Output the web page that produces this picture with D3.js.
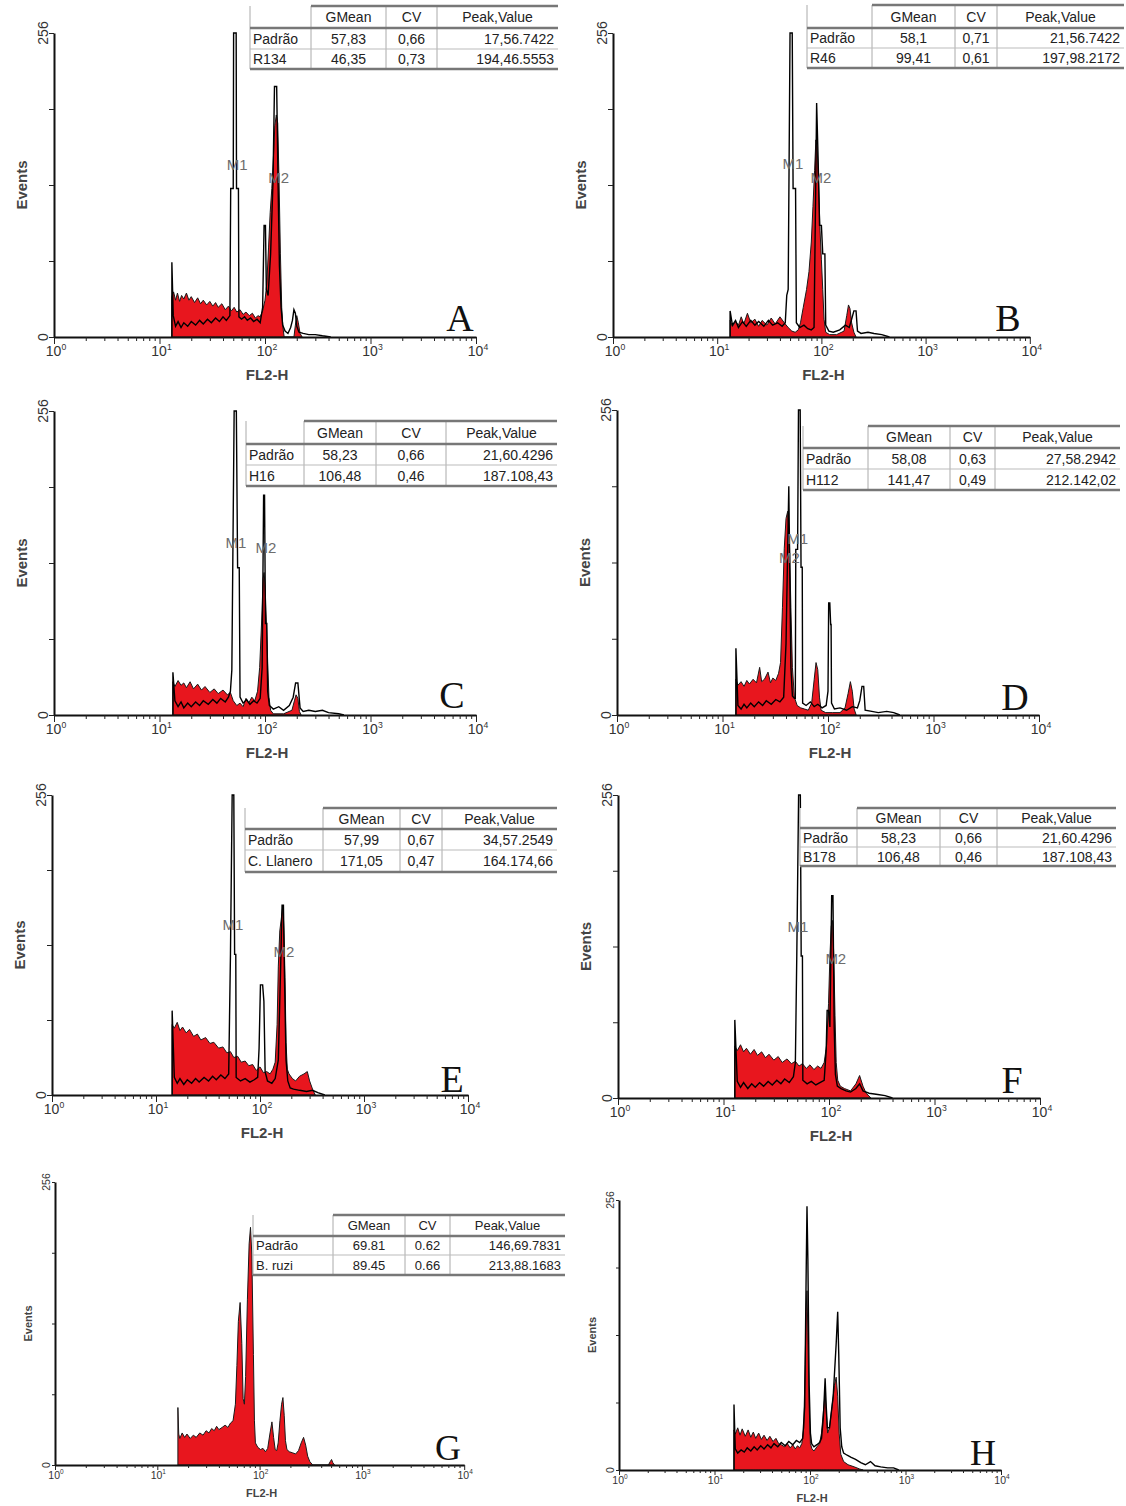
<!DOCTYPE html>
<html><head><meta charset="utf-8">
<script src="https://cdn.jsdelivr.net/npm/d3@7"></script>
<style>body{margin:0;background:#fff}svg{display:block}</style>
</head><body>
<svg id="fig" width="1126" height="1506"></svg>
<script>
// ---------- DATA ----------
const panelLetters = ["A","B","C","D","E","F","G","H"];
const tableHeader = ["", "GMean", "CV", "Peak,Value"];
const tableA = [["Padrão","57,83","0,66","17,56.7422"],["R134","46,35","0,73","194,46.5553"]];
const tableB = [["Padrão","58,1","0,71","21,56.7422"],["R46","99,41","0,61","197,98.2172"]];
const tableC = [["Padrão","58,23","0,66","21,60.4296"],["H16","106,48","0,46","187.108,43"]];
const tableD = [["Padrão","58,08","0,63","27,58.2942"],["H112","141,47","0,49","212.142,02"]];
const tableE = [["Padrão","57,99","0,67","34,57.2549"],["C. Llanero","171,05","0,47","164.174,66"]];
const tableF = [["Padrão","58,23","0,66","21,60.4296"],["B178","106,48","0,46","187.108,43"]];
const tableG = [["Padrão","69.81","0.62","146,69.7831"],["B. ruzi","89.45","0.66","213,88.1683"]];

const yTickValues = [0, 64, 128, 192, 256];
const decadeValues = [1, 10, 100, 1000, 10000];
const xAxisLabel = "FL2-H";
const yAxisLabel = "Events";

// [FL2-H channel, events]
const sampleA = [[13.1,0],[13.1,34],[13.6,38],[14.2,31],[14.8,37],[15.5,30],[16.2,35],[17,32],[18,37],[19,31],[20,34],[21.5,29],[23,33],[24.5,28],[26,31],[28,27],[30,30],[32,26],[34,29],[36,25],[39,28],[42,23],[45,26],[48,22],[51,25],[54,21],[58,23],[62,19],[66,21],[71,18],[76,20],[81,16],[86,18],[90,17],[95,22],[100,31],[104,45],[108,75],[112,105],[116,125],[120,150],[124,178],[128,187],[132,180],[136,130],[140,70],[144,25],[148,8],[152,0],[188,0],[194,10],[200,18],[207,12],[215,3],[225,0]];
const standardA = [[13.1,0],[13.1,63],[13.5,18],[14.2,9],[15,13],[16,8],[17,12],[18.5,9],[20,13],[22,10],[24,14],[26,11],[28.5,15],[31,12],[34,16],[37,13],[40,17],[43,14],[46.5,18],[47.3,125],[50,125],[50.4,256],[53.3,256],[53.7,125],[56,125],[56.6,17],[60,15],[64,17],[68,14],[73,16],[78,13],[84,15],[90,12],[95,25],[98,94],[101,94],[103,40],[107,35],[113,70],[119,130],[123,211],[129,211],[133,130],[137,60],[142,25],[147,10],[155,5],[165,3],[175,8],[182,14],[188,23],[194,20],[200,9],[210,4],[230,3],[260,2],[300,2],[350,1],[420,0]];

const sampleB = [[13.3,0],[13.3,14],[14,9],[15,13],[16,10],[17,17],[18,11],[19.5,20],[21,12],[23,15],[25,9],[27,14],[30,10],[33,16],[36,11],[40,17],[44,12],[48,8],[52,5],[56,4],[60,6],[63,12],[67,25],[72,40],[76,55],[80,80],[83,110],[86,140],[88.5,166],[91,160],[94,130],[97,90],[100,65],[103,40],[106,15],[110,4],[120,2],[140,2],[165,5],[175,18],[182,27],[188,24],[195,12],[205,4],[215,0]];
const standardB = [[13.3,0],[13.3,22],[14,10],[15,14],[16,8],[17.5,13],[19,9],[21,14],[23,10],[25,13],[28,9],[31,14],[34,10],[38,12],[42,9],[45,12],[46.5,35],[48,40],[50,256],[52.5,256],[53.5,125],[56.5,125],[57.5,12],[62,8],[68,10],[74,7],[80,6],[85,8],[88,120],[90,197],[93,150],[96,94],[100,94],[103,70],[108,70],[110,10],[118,5],[130,4],[150,6],[170,10],[185,8],[195,15],[205,22],[215,22],[222,5],[240,3],[280,4],[320,3],[380,2],[450,0]];

const sampleC = [[13.4,0],[13.4,28],[14,24],[15,29],[16,25],[17,27],[18,23],[19.5,28],[21,22],[23,26],[25,21],[27,24],[30,19],[33,22],[36,18],[40,21],[44,17],[47,19],[50,12],[54,8],[58,10],[62,7],[66,14],[70,10],[75,15],[80,12],[85,20],[89,40],[93,80],[96,115],[98,120],[100,110],[103,80],[106,45],[109,15],[113,4],[120,1],[150,1],[180,4],[190,12],[197,17],[205,14],[212,3],[220,0]];
const standardC = [[13.4,0],[13.4,36],[14,12],[15,7],[16,11],[17,6],[18.5,10],[20,7],[22,11],[24,8],[26,12],[29,9],[32,13],[35,10],[38,14],[42,11],[45,15],[47,20],[48.5,38],[51,256],[53.5,256],[55,124],[57,124],[58,15],[62,10],[67,13],[72,9],[78,12],[84,10],[90,14],[94,40],[97,185],[99,185],[101,77],[104,77],[106,20],[110,8],[120,5],[135,7],[150,4],[170,8],[185,15],[195,27],[205,27],[215,6],[230,3],[260,4],[300,3],[350,4],[400,2],[500,1],[560,0]];

const sampleD = [[13.4,0],[13.4,30],[14,25],[15,28],[16,24],[17,29],[18,26],[19.5,30],[21,27],[22.5,40],[23.5,28],[25,30],[27,36],[28.5,27],[30,31],[32,29],[34,35],[35.5,44],[37,90],[38.5,140],[40,165],[41.5,171],[43,150],[44.5,90],[46,40],[48,15],[51,8],[55,6],[60,5],[65,4],[70,10],[74,30],[77,44],[80,38],[83,15],[86,4],[95,2],[110,2],[130,2],[145,6],[155,18],[163,28],[170,20],[177,5],[185,0]];
const standardD = [[13.4,0],[13.4,56],[14,8],[15,5],[16,9],[17,6],[18.5,10],[20,7],[22,11],[24,8],[26,12],[29,9],[32,13],[35,11],[38,15],[40,60],[42.5,192],[44.5,40],[46,16],[48,14],[49,14],[49.5,139],[51.5,139],[52.5,256],[54.5,256],[55.5,124],[57,124],[57.5,10],[62,8],[68,11],[74,7],[80,9],[88,6],[96,8],[100,20],[101.5,94],[104,94],[106,76],[107,76],[108,10],[115,5],[130,6],[150,4],[170,7],[190,6],[200,12],[210,24],[218,24],[225,4],[260,3],[300,2],[360,3],[420,2],[480,0]];

const sampleE = [[14.3,0],[14.3,60],[15,57],[16,62],[17,55],[18,58],[19.5,53],[21,56],[23,50],[25,52],[27,47],[30,49],[33,44],[36,45],[40,40],[44,41],[48,36],[52,37],[56,32],[61,33],[66,28],[72,29],[78,25],[85,26],[92,21],[100,24],[108,19],[116,20],[125,18],[133,22],[140,28],[146,60],[150,110],[155,140],[160,150],[166,162],[170,140],[174,100],[178,45],[183,22],[190,18],[205,14],[220,12],[240,16],[265,18],[285,20],[300,12],[320,5],[340,0]];
const standardE = [[14.3,0],[14.3,72],[15,15],[16,10],[17,14],[18.5,9],[20,13],[22,10],[24,14],[26,11],[29,15],[32,12],[35,16],[38,13],[42,17],[46,14],[50,18],[52,120],[54,256],[56,256],[57,120],[58.5,120],[59,15],[65,12],[72,14],[80,11],[88,13],[95,15],[98,40],[101,94],[106,94],[109,80],[112,20],[118,12],[130,10],[140,14],[150,30],[158,110],[163,162],[168,162],[172,100],[178,30],[185,12],[195,6],[210,5],[240,4],[280,3],[320,4],[360,2],[420,0]];

const sampleF = [[12.8,0],[12.8,44],[13.5,40],[14.5,45],[15.5,39],[16.5,42],[18,37],[19.5,41],[21,36],[23,39],[25,34],[27,37],[30,32],[33,35],[36,30],[40,33],[44,29],[48,31],[52,27],[56,29],[61,25],[66,28],[72,24],[78,27],[84,25],[90,30],[95,45],[99,80],[102,120],[105,145],[108,150],[111,120],[114,70],[117,30],[121,15],[128,10],[140,8],[160,6],[180,12],[195,19],[210,10],[225,4],[250,0]];
const standardF = [[12.8,0],[12.8,66],[13.5,14],[14.5,9],[15.5,13],[17,8],[18.5,12],[20,9],[22,13],[24,10],[26.5,14],[29,11],[32,15],[35,12],[38,16],[42,13],[46,18],[48,30],[49.5,120],[51.5,256],[53.5,256],[54.5,120],[56,120],[56.5,15],[62,12],[68,14],[75,11],[82,13],[90,15],[94,40],[96,74],[99,74],[102,60],[106,171],[109,171],[112,60],[115,20],[120,10],[130,8],[145,6],[160,5],[180,8],[195,12],[210,6],[240,4],[290,3],[340,2],[400,0]];

const sampleG = [[15.9,0],[15.9,52],[16.2,28],[16.6,24],[17.5,29],[18.5,25],[19.5,28],[21,24],[22.5,27],[24,25],[26,29],[28,27],[30,31],[32,29],[34,33],[36,31],[38,35],[40,32],[43,34],[46,36],[49,34],[52,38],[55,40],[58,55],[60,90],[62,130],[64.5,147],[67,110],[69,60],[71,55],[73,80],[76,150],[79,200],[81.5,215],[84,190],[87,100],[89,40],[91,20],[96,16],[102,14],[108,15],[114,12],[120,15],[126,28],[132,39],[137,25],[142,14],[147,13],[152,20],[158,40],[164,55],[169,61],[174,45],[179,22],[185,14],[195,12],[210,11],[225,10],[240,13],[255,20],[269,25],[282,18],[295,8],[310,3],[331,0],[470,0],[490,3],[505,5],[520,2],[540,0]];
const standardG = [];

const sampleH = [[16,0],[16,38],[16.5,34],[17.5,40],[18.5,33],[19.5,39],[21,32],[22.5,38],[24,31],[25.5,36],[27,30],[29,35],[31,29],[33,33],[35.5,28],[38,32],[41,27],[44,30],[47,25],[50,24],[54,22],[58,25],[62,21],[66,24],[70,20],[74,23],[78,21],[82,25],[86,40],[89,100],[91,150],[93,170],[95,130],[98,60],[101,25],[105,20],[110,18],[118,22],[126,25],[132,35],[138,55],[144,73],[148,55],[153,35],[160,40],[170,60],[180,80],[188,88],[195,70],[202,35],[210,15],[225,8],[250,5],[290,3],[330,1],[360,0]];
const standardH = [[16,0],[16,62],[16.5,20],[17.5,16],[19,19],[20.5,17],[22,21],[24,18],[26,22],[28,19],[30.5,23],[33,20],[36,24],[39,21],[42,25],[46,22],[50,26],[55,23],[60,27],[66,24],[72,28],[78,26],[84,30],[88,60],[91,180],[93,250],[95,200],[98,80],[101,35],[104,25],[110,22],[118,24],[126,26],[132,30],[138,50],[144,87],[148,60],[152,40],[160,40],[175,70],[188,120],[195,150],[200,110],[207,40],[215,22],[225,16],[245,14],[270,12],[300,10],[340,7],[380,5],[430,8],[480,4],[550,3],[650,2],[750,2],[850,0]];

// marker labels: [label, channel, events]
const markersA = [["M1",54.5,145],["M2",135,134]];
const markersB = [["M1",53.4,146],["M2",99,134]];
const markersC = [["M1",53,145],["M2",102,141]];
const markersD = [["M1",51.5,148],["M2",43,132]];
const markersE = [["M1",55,145],["M2",170,122]];
const markersF = [["M1",50.8,145],["M2",116,118]];

// ---------- LAYOUT ----------
const panels = [
 {letter:panelLetters[0], sample:sampleA, standard:standardA, table:tableA, markers:markersA, x0:54, dec:105.5, top:33, bottom:337, fs:14, tfs:14, lfs:38, letterPos:[460,331], cols:[250,311,386,437,558], rows:[6,28,49,69]},
 {letter:panelLetters[1], sample:sampleB, standard:standardB, table:tableB, markers:markersB, x0:613, dec:104.2, top:33, bottom:337, fs:14, tfs:14, lfs:38, letterPos:[1008,331], cols:[807,872,955,997,1124], rows:[5,28,48,68]},
 {letter:panelLetters[2], sample:sampleC, standard:standardC, table:tableC, markers:markersC, x0:54, dec:105.5, top:411, bottom:715, fs:14, tfs:14, lfs:38, letterPos:[452,708], cols:[246,304,376,446,557], rows:[421,444,465,486]},
 {letter:panelLetters[3], sample:sampleD, standard:standardD, table:tableD, markers:markersD, x0:617, dec:105.5, top:410, bottom:715, fs:14, tfs:14, lfs:38, letterPos:[1015,710], cols:[803,868,950,995,1120], rows:[426,448,469,490]},
 {letter:panelLetters[4], sample:sampleE, standard:standardE, table:tableE, markers:markersE, x0:52, dec:104, top:795, bottom:1095, fs:14, tfs:14, lfs:38, letterPos:[452,1092], cols:[245,323,400,442,557], rows:[808,829,850,872]},
 {letter:panelLetters[5], sample:sampleF, standard:standardF, table:tableF, markers:markersF, x0:618, dec:105.5, top:795, bottom:1098, fs:14, tfs:14, lfs:38, letterPos:[1012,1093], cols:[800,857,940,997,1116], rows:[808,828,847,866]},
 {letter:panelLetters[6], sample:sampleG, standard:standardG, table:tableG, markers:[], x0:55, dec:102.3, top:1182, bottom:1465, fs:10.5, tfs:13, lfs:36, letterPos:[448,1460], cols:[253,333,405,450,565], rows:[1215,1236,1255,1275]},
 {letter:panelLetters[7], sample:sampleH, standard:standardH, table:null, markers:[], x0:619, dec:95.5, top:1200, bottom:1470, fs:10.5, tfs:13, lfs:36, letterPos:[983,1465]}
];

const SANS = "'Liberation Sans', Arial, Helvetica, sans-serif";
const SERIF = "'Liberation Serif', 'Times New Roman', serif";
const svg = d3.select("#fig");

panels.forEach(p => {
  const g = svg.append("g");
  const x = d3.scaleLog().domain([1, 1e4]).range([p.x0, p.x0 + 4 * p.dec]);
  const y = d3.scaleLinear().domain([0, 256]).range([p.bottom, p.top]);
  const small = p.fs < 12;

  // filled sample histogram
  const area = d3.area().x(d => x(d[0])).y0(p.bottom).y1(d => y(d[1]));
  const line = d3.line().x(d => x(d[0])).y(d => y(d[1]));
  g.append("path").datum(p.sample).attr("d", area)
    .attr("fill", "#e8161e").attr("stroke", "#1a1a1a").attr("stroke-width", 1).attr("stroke-linejoin", "round");
  if (p.standard.length) {
    g.append("path").datum(p.standard).attr("d", line)
      .attr("fill", "none").attr("stroke", "#000").attr("stroke-width", 1.4).attr("stroke-linejoin", "miter");
  }

  // x axis
  const ticks = [];
  decadeValues.slice(0, 4).forEach(d => { for (let k = 1; k <= 9; k++) ticks.push(d * k); });
  ticks.push(1e4);
  const xa = g.append("g").attr("transform", `translate(0,${p.bottom})`)
    .call(d3.axisBottom(x).tickValues(ticks).tickSize(small ? 3 : 4).tickSizeOuter(0).tickFormat(""));
  xa.select(".domain").attr("stroke", "#111").attr("stroke-width", 2);
  xa.selectAll(".tick line").attr("stroke", "#222").attr("stroke-width", 1)
    .attr("y2", d => decadeValues.includes(d) ? (small ? 5 : 7) : (small ? 3 : 4));

  // y axis
  const ya = g.append("g").attr("transform", `translate(${p.x0},0)`)
    .call(d3.axisLeft(y).tickValues(yTickValues).tickSize(small ? 3 : 5).tickSizeOuter(0).tickFormat(""));
  ya.select(".domain").attr("stroke", "#111").attr("stroke-width", 2);
  ya.selectAll(".tick line").attr("stroke", "#222").attr("stroke-width", 1);

  // decade labels
  decadeValues.forEach((d, i) => {
    const t = g.append("text").attr("x", x(d) + (small ? 1 : 2)).attr("y", p.bottom + (small ? 14 : 19))
      .attr("text-anchor", "middle").attr("font-family", SANS).attr("font-size", p.fs).attr("fill", "#333");
    t.append("tspan").text("10");
    t.append("tspan").attr("dy", -p.fs * 0.45).attr("font-size", p.fs * 0.62).text(String(i));
  });

  // y end labels
  [0, 256].forEach(v => {
    g.append("text").attr("transform", `translate(${p.x0 - (small ? 5 : 6)},${y(v)}) rotate(-90)`)
      .attr("text-anchor", "middle").attr("font-family", SANS).attr("font-size", p.fs).attr("fill", "#333").text(v);
  });

  // axis titles
  g.append("text").attr("x", x(100) + 2).attr("y", p.bottom + (small ? 32 : 43))
    .attr("text-anchor", "middle").attr("font-family", SANS).attr("font-size", small ? 11 : 15)
    .attr("font-weight", "bold").attr("fill", "#444").text(xAxisLabel);
  g.append("text").attr("transform", `translate(${p.x0 - (small ? 23 : 27)},${(p.top + p.bottom) / 2}) rotate(-90)`)
    .attr("text-anchor", "middle").attr("font-family", SANS).attr("font-size", small ? 11 : 15)
    .attr("font-weight", "bold").attr("fill", "#444").text(yAxisLabel);

  // marker labels
  p.markers.forEach(m => {
    g.append("text").attr("x", x(m[1])).attr("y", y(m[2])).attr("dy", "0.35em")
      .attr("text-anchor", "middle").attr("font-family", SANS).attr("font-size", 15)
      .attr("fill", "#6d6d6d").text(m[0]);
  });

  // panel letter
  g.append("text").attr("x", p.letterPos[0]).attr("y", p.letterPos[1]).attr("text-anchor", "middle")
    .attr("font-family", SERIF).attr("font-size", p.lfs).attr("fill", "#111").text(p.letter);

  // table
  if (p.table) {
    const c = p.cols, r = p.rows;
    const tg = g.append("g");
    tg.append("rect").attr("x", c[0]).attr("y", r[0]).attr("width", c[4] - c[0]).attr("height", r[3] - r[0]).attr("fill", "#fff");
    [c[0], c[1], c[2], c[3]].forEach(cx => tg.append("line").attr("x1", cx).attr("x2", cx).attr("y1", r[0]).attr("y2", r[3])
      .attr("stroke", "#aaa").attr("stroke-width", 1));
    tg.append("line").attr("x1", c[1]).attr("x2", c[4]).attr("y1", r[0]).attr("y2", r[0]).attr("stroke", "#777").attr("stroke-width", 2.5);
    tg.append("line").attr("x1", c[0]).attr("x2", c[4]).attr("y1", r[1]).attr("y2", r[1]).attr("stroke", "#777").attr("stroke-width", 2.5);
    tg.append("line").attr("x1", c[0]).attr("x2", c[4]).attr("y1", r[2]).attr("y2", r[2]).attr("stroke", "#bbb").attr("stroke-width", 1);
    tg.append("line").attr("x1", c[0]).attr("x2", c[4]).attr("y1", r[3]).attr("y2", r[3]).attr("stroke", "#777").attr("stroke-width", 2.5);
    const cellText = (txt, ci, ri) => {
      const yMid = (r[ri] + r[ri + 1]) / 2;
      let xx, anchor;
      if (ci === 0) { xx = c[0] + 3; anchor = "start"; }
      else if (ci === 3 && ri > 0) { xx = c[4] - 4; anchor = "end"; }
      else { xx = (c[ci] + c[ci + 1]) / 2; anchor = "middle"; }
      tg.append("text").attr("x", xx).attr("y", yMid).attr("dy", "0.36em").attr("text-anchor", anchor)
        .attr("font-family", SANS).attr("font-size", p.tfs).attr("fill", "#222").text(txt);
    };
    tableHeader.forEach((h, ci) => { if (h) cellText(h, ci, 0); });
    p.table.forEach((row, ri) => row.forEach((v, ci) => cellText(v, ci, ri + 1)));
  }
});
</script>
</body></html>
